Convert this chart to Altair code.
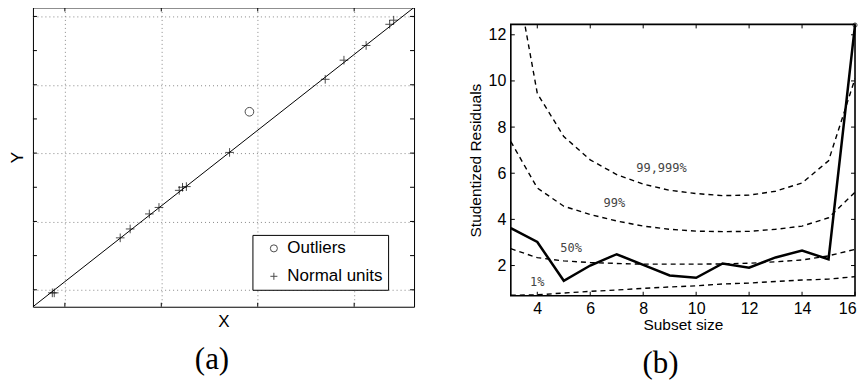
import altair as alt
import pandas as pd

# ---------------- Panel (a) data ----------------
normal_x = [0.87, 0.89, 1.574, 1.677, 1.876, 1.976, 2.186, 2.22, 2.26, 2.708, 3.70, 3.894, 4.124, 4.368, 4.41]
normal_y = [0.91, 0.91, 2.52, 2.78, 3.22, 3.41, 3.91, 4.00, 4.02, 5.02, 7.16, 7.72, 8.15, 8.77, 8.89]
outlier_x = [2.914]
outlier_y = [6.21]
fit_x = [0.669, 4.621]
fit_y = [0.504, 9.263]
grid_x = [1, 2, 3, 4]
grid_y = [1, 2, 3, 4, 5, 6, 7, 8, 9]
legend_names = ["Outliers", "Normal units"]

# ---------------- Panel (b) data ----------------
subset = list(range(3, 17))
resid = [3.62, 3.02, 1.34, 2.00, 2.49, 2.03, 1.57, 1.47, 2.09, 1.91, 2.35, 2.65, 2.27, 12.42]
q99999 = [15.8, 9.46, 7.59, 6.58, 5.94, 5.53, 5.26, 5.12, 5.03, 5.05, 5.22, 5.58, 6.54, 10.1]
q99 = [7.37, 5.36, 4.57, 4.21, 3.93, 3.71, 3.57, 3.49, 3.47, 3.48, 3.57, 3.71, 4.07, 5.18]
q50 = [2.73, 2.34, 2.20, 2.13, 2.09, 2.06, 2.06, 2.06, 2.07, 2.10, 2.16, 2.24, 2.42, 2.70]
q1 = [0.71, 0.73, 0.81, 0.88, 0.94, 1.01, 1.07, 1.12, 1.20, 1.24, 1.31, 1.37, 1.41, 1.52]
band_labels = ["99,999%", "99%", "50%", "1%"]
label_x = [8.69, 6.91, 5.28, 4.00]
label_y = [6.22, 4.69, 2.78, 1.27]
xticks_b = [4, 6, 8, 10, 12, 14, 16]
yticks_b = [2, 4, 6, 8, 10, 12]

SANS = "Liberation Sans"
SERIF = "Liberation Serif"
MONO = "DejaVu Sans Mono"

# ---------------- Panel (a) ----------------
WA, HA = 382, 300
xa = alt.Scale(domain=[0.669, 4.621], nice=False, zero=False)
ya = alt.Scale(domain=[0.504, 9.263], nice=False, zero=False)

pts = pd.DataFrame({
    "x": outlier_x + normal_x,
    "y": outlier_y + normal_y,
    "kind": [legend_names[0]] * len(outlier_x) + [legend_names[1]] * len(normal_x),
})
fit = pd.DataFrame({"x": fit_x, "y": fit_y})
gx = pd.DataFrame({"v": grid_x})
gy = pd.DataFrame({"v": grid_y})

fit_line = alt.Chart(fit).mark_line(color="black", strokeWidth=1).encode(
    x=alt.X("x:Q", scale=xa, axis=alt.Axis(values=grid_x, grid=True, labels=False, ticks=False,
                                           domain=False, title="X", titlePadding=7)),
    y=alt.Y("y:Q", scale=ya, axis=alt.Axis(values=grid_y, grid=True, labels=False, ticks=False,
                                           domain=False, title="Y", titlePadding=6)),
)

points = alt.Chart(pts).mark_point(filled=False, color="black", strokeWidth=1, size=75).encode(
    x=alt.X("x:Q", scale=xa),
    y=alt.Y("y:Q", scale=ya),
    shape=alt.Shape("kind:N",
                    scale=alt.Scale(domain=legend_names, range=["circle", "M-1,0L1,0M0,-1L0,1"]),
                    legend=alt.Legend(title=None, orient="none", legendX=220, legendY=228,
                                      padding=5, strokeColor="black", fillColor="white",
                                      labelFontSize=17, labelFont=SANS, labelColor="black",
                                      symbolSize=50, symbolStrokeColor="black", symbolStrokeWidth=1,
                                      rowPadding=10, symbolOffset=8, labelOffset=5,
                                      cornerRadius=0)),
)

ticks_a = [
    alt.Chart(gy).mark_rule(color="black").encode(y=alt.Y("v:Q", scale=ya), x=alt.value(0), x2=alt.value(4)),
    alt.Chart(gy).mark_rule(color="black").encode(y=alt.Y("v:Q", scale=ya), x=alt.value(WA - 4), x2=alt.value(WA)),
    alt.Chart(gx).mark_rule(color="black").encode(x=alt.X("v:Q", scale=xa), y=alt.value(0), y2=alt.value(4)),
    alt.Chart(gx).mark_rule(color="black").encode(x=alt.X("v:Q", scale=xa), y=alt.value(HA - 4), y2=alt.value(HA)),
]

cap_a = alt.Chart(pd.DataFrame({"t": ["(a)"]})).mark_text(
    font=SERIF, fontSize=31, color="black", baseline="middle", align="center"
).encode(text="t:N", x=alt.value(179.5), y=alt.value(353.5))

panel_a = alt.layer(fit_line, *ticks_a, points, cap_a).properties(width=WA, height=HA)

# ---------------- Panel (b) ----------------
WB, HB = 345, 272
xb = alt.Scale(domain=[3, 16], nice=False, zero=False)
yb = alt.Scale(domain=[0.69, 12.45], nice=False, zero=False)

curves = pd.DataFrame({
    "n": subset * 4,
    "v": q99999 + q99 + q50 + q1,
    "band": [band_labels[0]] * 14 + [band_labels[1]] * 14 + [band_labels[2]] * 14 + [band_labels[3]] * 14,
})
main = pd.DataFrame({"n": subset, "v": resid})
last = pd.DataFrame({"n": [subset[-1]], "v": [resid[-1]]})
labs = pd.DataFrame({"n": label_x, "v": label_y, "t": band_labels})
xtb = pd.DataFrame({"v": xticks_b})
ytb = pd.DataFrame({"v": yticks_b})

dashed = alt.Chart(curves).mark_line(color="black", strokeWidth=1.4, strokeDash=[5, 4], clip=True).encode(
    x=alt.X("n:Q", scale=xb, axis=alt.Axis(values=xticks_b, grid=False, ticks=False, domain=False,
                                           labelFontSize=16, labelPadding=5, labelFlush=True,
                                           labelFlushOffset=1,
                                           title="Subset size", titleFontSize=15.5, titlePadding=1)),
    y=alt.Y("v:Q", scale=yb, axis=alt.Axis(values=yticks_b, grid=False, ticks=False, domain=False,
                                           labelFontSize=16, labelPadding=5,
                                           title="Studentized Residuals", titleFontSize=15.5,
                                           titlePadding=5)),
    detail="band:N",
)
solid = alt.Chart(main).mark_line(color="black", strokeWidth=2.5).encode(
    x=alt.X("n:Q", scale=xb), y=alt.Y("v:Q", scale=yb))
endpt = alt.Chart(last).mark_point(filled=False, color="black", size=18, strokeWidth=1).encode(
    x=alt.X("n:Q", scale=xb), y=alt.Y("v:Q", scale=yb))
texts = alt.Chart(labs).mark_text(font=MONO, fontSize=12, color="#444").encode(
    x=alt.X("n:Q", scale=xb), y=alt.Y("v:Q", scale=yb), text="t:N")

ticks_b = [
    alt.Chart(ytb).mark_rule(color="black").encode(y=alt.Y("v:Q", scale=yb), x=alt.value(0), x2=alt.value(4)),
    alt.Chart(ytb).mark_rule(color="black").encode(y=alt.Y("v:Q", scale=yb), x=alt.value(WB - 4), x2=alt.value(WB)),
    alt.Chart(xtb).mark_rule(color="black").encode(x=alt.X("v:Q", scale=xb), y=alt.value(0), y2=alt.value(4)),
    alt.Chart(xtb).mark_rule(color="black").encode(x=alt.X("v:Q", scale=xb), y=alt.value(HB - 4), y2=alt.value(HB)),
]

cap_b = alt.Chart(pd.DataFrame({"t": ["(b)"]})).mark_text(
    font=SERIF, fontSize=31, color="black", baseline="middle", align="center"
).encode(text="t:N", x=alt.value(150), y=alt.value(340.5))

panel_b = alt.layer(dashed, *ticks_b, solid, endpt, texts, cap_b).properties(
    width=WB, height=HB, view=alt.ViewBackground(stroke="black", strokeWidth=1.6))

spacer = alt.Chart(pd.DataFrame({"v": [0]})).mark_point(opacity=0, size=1, strokeWidth=0).encode(
    x=alt.value(WB / 2), y=alt.value(5)
).properties(width=WB, height=10, view=alt.ViewBackground(stroke="transparent"))

right_col = alt.vconcat(spacer, panel_b, spacing=0)

chart = alt.hconcat(panel_a, right_col, spacing=50).resolve_legend(shape="independent").properties(
    padding={"left": 0, "top": -4, "right": -3, "bottom": 0}
).configure(font=SANS).configure_view(
    stroke="black", strokeWidth=1
).configure_axis(
    labelColor="black", titleColor="black", labelFont=SANS, titleFont=SANS,
    titleFontWeight="normal", titleFontSize=17, gridColor="#888", gridDash=[1, 3], gridWidth=1
)

chart.save("out.html", embed_options={"renderer": "svg", "actions": False})
